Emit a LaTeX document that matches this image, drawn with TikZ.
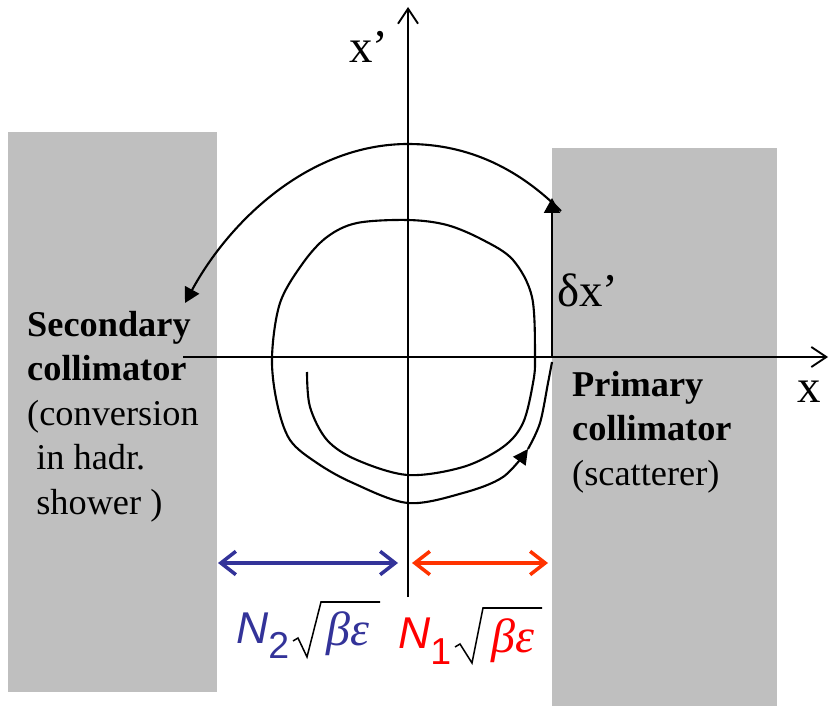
\RequirePackage{fix-cm}
\documentclass[tikz,border=0pt]{standalone}
\usepackage{fontspec}
\setmainfont{Liberation Serif}
\newfontfamily\lsans{Liberation Sans}
\usepackage{xcolor}
\usetikzlibrary{arrows.meta}

\definecolor{collgray}{RGB}{191,191,191}
\definecolor{nblue}{RGB}{51,51,153}
\definecolor{nred}{RGB}{255,0,0}
\definecolor{gapred}{RGB}{255,51,0}

\begin{document}
\begin{tikzpicture}[
    x=0.3mm, y=-0.3mm,
    axis/.style={line width=1.6pt, -{Straight Barb[length=4.5mm, width=6mm]}},
    orbit/.style={line width=1.8pt},
    kickarrow/.style={line width=1.8pt, -{Triangle[length=4.5mm, width=4.8mm]}},
    gap/.style={line width=3pt, {Straight Barb[length=4.5mm, width=7mm]}-{Straight Barb[length=4.5mm, width=7mm]}},
    radical/.style={line width=1.3pt, line join=miter},
    coltext/.style={font=\fontsize{31}{38}\selectfont, align=left, inner sep=0pt, anchor=north west},
    axlabel/.style={font=\fontsize{40}{44}\selectfont, inner sep=0pt, anchor=base west},
    nlabel/.style={font=\fontsize{38}{40}\lsans\itshape, inner sep=0pt, anchor=base west},
    greeklabel/.style={font=\fontsize{41}{44}\itshape, inner sep=0pt, anchor=base west}
]
\useasboundingbox (0,0) rectangle (829,706);

% collimator jaws
\fill[collgray] (8,132) rectangle (217,692);
\fill[collgray] (552,148) rectangle (777,706);

% phase space axes
\coordinate (O) at (408,357);
\coordinate (xstart) at (183,357);
\coordinate (xend) at (828,357);
\coordinate (ystart) at (408,597);
\coordinate (yend) at (408,7);
\draw[axis] (xstart) -- (xend);
\draw[axis] (ystart) -- (yend);
\node[axlabel] (xlab) at (797,402) {x};
\node[axlabel] (xplab) at (349,63) {x’};

% betatron oscillation
\coordinate (spiralstart) at (307,372);
\coordinate (spiralmid) at (528,449);
\coordinate (kickfoot) at (552,362);
\draw[orbit, -{Triangle[length=4.5mm, width=4.5mm]}] plot[smooth, tension=0.55] coordinates {
    (spiralstart) (310,407) (327,440) (357,460) (408,475) (463,467) (503,447)
    (523,423) (533,383) (535,357) (532,297) (513,260) (483,240) (447,225)
    (408,220) (357,223) (327,237) (303,263) (280,303) (272,357) (277,403)
    (290,440) (317,463) (353,483) (408,503) (463,493) (503,477) (spiralmid)};
\draw[orbit] plot[smooth, tension=0.55] coordinates {
    (spiralmid) (540,423) (548,383) (kickfoot)};

% scattering kick and way to the secondary
\coordinate (kickbase) at (552,357);
\coordinate (kicktop) at (552,198);
\draw[kickarrow] (kickbase) -- (kicktop);
\node[axlabel] (dxlab) at (557,307) {δx’};
\coordinate (arcstart) at (561,211);
\coordinate (arcend) at (185,303);
\draw[kickarrow] (arcstart) .. controls (520,170) and (470,144) .. (408,144)
    .. controls (310,144) and (230,220) .. (arcend);

% collimator labels
\node[coltext] (seclab) at (27,311) {\textbf{Secondary}\\\textbf{collimator}\\(conversion\\\hspace{0.25em}in hadr.\\\hspace{0.25em}shower )};
\node[coltext] (primlab) at (572,371) {\textbf{Primary}\\\textbf{collimator}\\(scatterer)};

% apertures
\coordinate (gapL) at (218,563);
\coordinate (gapM1) at (398,563);
\coordinate (gapM2) at (412,563);
\coordinate (gapR) at (548,563);
\draw[gap, nblue] (gapL) -- (gapM1);
\draw[gap, gapred] (gapM2) -- (gapR);

\node[nlabel, text=nblue] (n2lab) at (236,643) {N\raisebox{-4.5mm}{\upshape\fontsize{32}{32}\selectfont 2}};
\draw[radical] (293,641) -- (298,638) -- (307,657) -- (321,602) -- (380,602);
\node[greeklabel, text=nblue] (be2lab) at (326,645) {βε};

\node[nlabel, text=nred] (n1lab) at (398,648) {N\raisebox{-5mm}{\upshape\fontsize{32}{32}\selectfont 1}};
\draw[radical] (455,647) -- (460,644) -- (472,663) -- (483,608) -- (542,608);
\node[greeklabel, text=nred] (be1lab) at (491,652) {βε};
\end{tikzpicture}
\end{document}
